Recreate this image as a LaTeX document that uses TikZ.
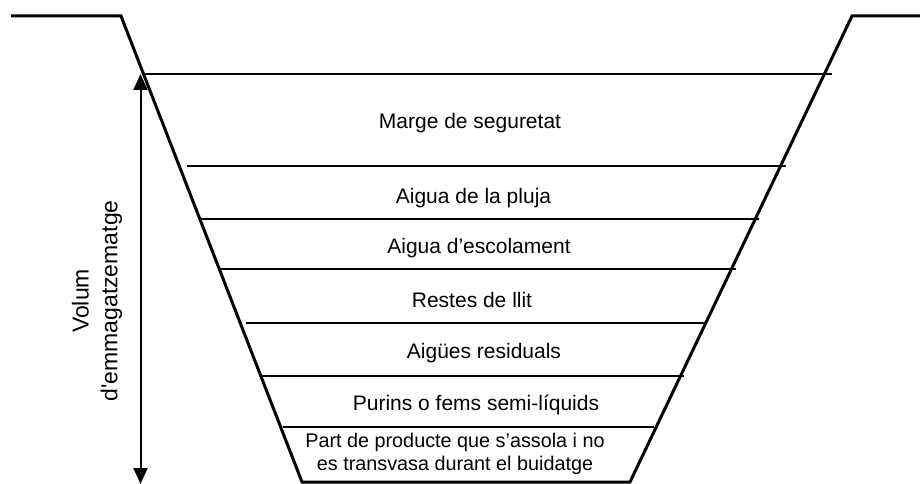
\documentclass[tikz,border=0pt]{standalone}
\usepackage{fontspec}
\setmainfont{Liberation Sans}
\usetikzlibrary{arrows.meta}
\tikzset{
  ground/.style={line width=3pt, line join=miter},
  layer/.style={line width=2pt},
  lbl/.style={anchor=base, inner sep=0pt, font=\fontsize{21}{25}\selectfont},
  lblsmall/.style={anchor=base, inner sep=0pt, font=\fontsize{19.8}{22.5}\selectfont},
  vlbl/.style={rotate=90, align=center, inner sep=0pt, font=\fontsize{23}{28.7}\selectfont},
  dimarrow/.style={line width=2pt, {Triangle[length=16pt,width=14pt]}-{Triangle[length=16pt,width=14pt]}}
}
\begin{document}
\begin{tikzpicture}[x=1pt,y=-1pt]
\useasboundingbox (0,0) rectangle (920,484);
% outline of the pit
\coordinate (gl) at (11,16);
\coordinate (tl) at (121,16);
\coordinate (bl) at (302,482);
\coordinate (br) at (630,482);
\coordinate (tr) at (852,16);
\coordinate (gr) at (921,16);
\draw[ground] (gl) -- (tl) -- (bl) -- (br) -- (tr) -- (gr);
% layer lines
\coordinate (a0) at (143,74);    \coordinate (b0) at (832,74);
\coordinate (a1) at (187,165.7); \coordinate (b1) at (786,165.7);
\coordinate (a2) at (201,219);   \coordinate (b2) at (759,219);
\coordinate (a3) at (220,269.3); \coordinate (b3) at (736,269.3);
\coordinate (a4) at (246,323);   \coordinate (b4) at (705,323);
\coordinate (a5) at (261,376);   \coordinate (b5) at (684,376);
\coordinate (a6) at (283,426.7); \coordinate (b6) at (654,426.7);
\foreach \i in {0,...,6} { \draw[layer] (a\i) -- (b\i); }
% labels
\node[lbl] (marge)  at (470,128.3) {Marge de seguretat};
\node[lbl] (pluja)  at (473.5,203.3) {Aigua de la pluja};
\node[lbl] (escol)  at (479,253.3) {Aigua d’escolament};
\node[lbl] (restes) at (472,307.3) {Restes de llit};
\node[lbl] (aigues) at (484,358.3) {Aigües residuals};
\node[lbl] (purins) at (476,410.7) {Purins o fems semi-líquids};
\node[lblsmall] (bot1) at (455,447.3) {Part de producte que s’assola i no};
\node[lblsmall] (bot2) at (455,470) {es transvasa durant el buidatge};
% dimension arrow
\coordinate (atop) at (140.5,74);
\coordinate (abot) at (140.5,484);
\draw[dimarrow] (abot) -- (atop);
\node[vlbl] (volum) at (97,301) {Volum\\d\textquotesingle emmagatzematge};
\end{tikzpicture}
\end{document}
